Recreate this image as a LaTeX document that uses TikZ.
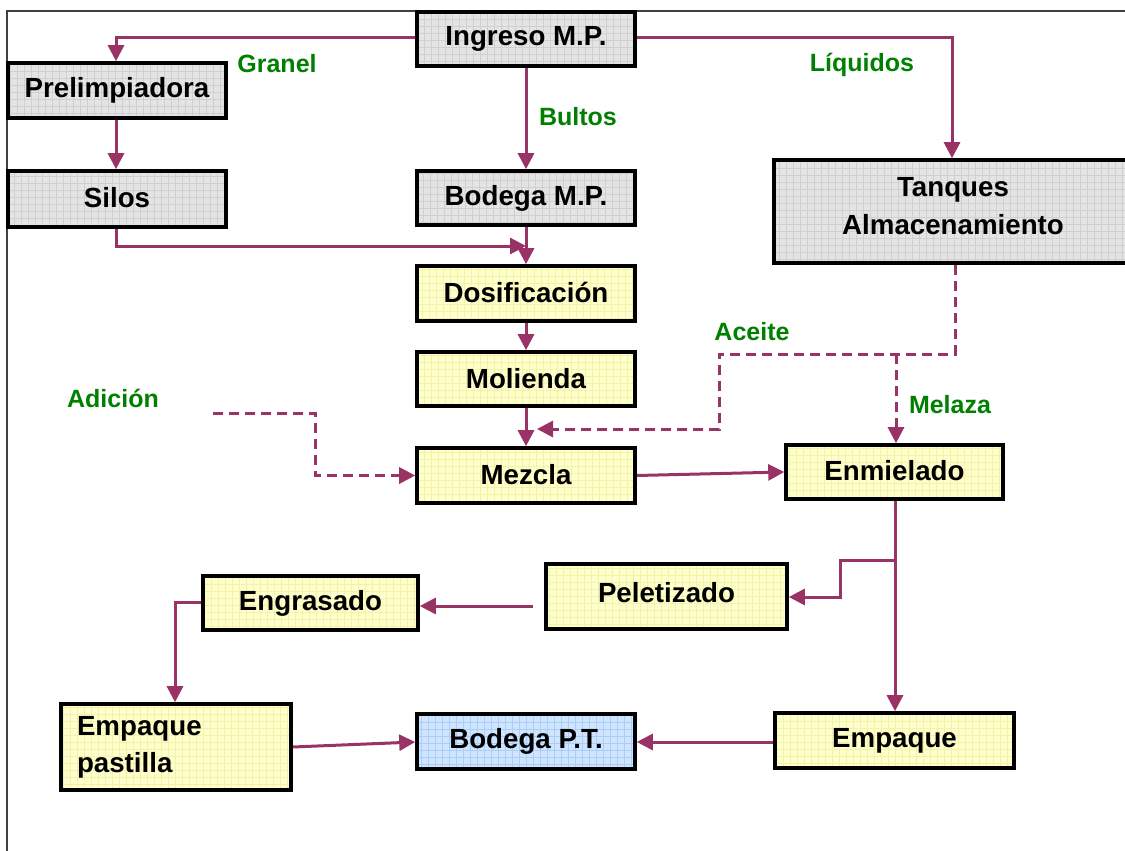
\documentclass[tikz,border=0pt]{standalone}
\usepackage{fontspec}
\setmainfont{Liberation Sans}
\usetikzlibrary{arrows.meta}
\definecolor{arr}{RGB}{153,51,102}
\definecolor{lbl}{RGB}{0,128,0}
\definecolor{gfill}{RGB}{228,228,228}
\definecolor{ggrid}{RGB}{208,208,208}
\definecolor{yfill}{RGB}{255,255,204}
\definecolor{ygrid}{RGB}{242,242,170}
\definecolor{bfill}{RGB}{206,228,255}
\definecolor{bgrid}{RGB}{170,206,245}
\begin{document}
\begin{tikzpicture}[x=1pt,y=-1pt,
  box/.style={draw=black, line width=3.6pt, inner sep=0pt, font=\fontsize{27.7}{37}\selectfont\bfseries, align=center},
  gridded/.style 2 args={fill=#1, path picture={\draw[#2, line width=0.7pt, step=7pt] (path picture bounding box.south west) grid (path picture bounding box.north east);}},
  graybox/.style={box, gridded={gfill}{ggrid}},
  yelbox/.style={box, gridded={yfill}{ygrid}},
  bluebox/.style={box, gridded={bfill}{bgrid}},
  conn/.style={draw=arr, line width=3pt, -{Triangle[length=16pt,width=16pt]}},
  dconn/.style={conn, dash pattern=on 10pt off 6pt},
  lab/.style={text=lbl, font=\fontsize{25}{30}\selectfont\bfseries, inner sep=0pt}
]
\useasboundingbox (0,0) rectangle (1125,851);
\fill[white] (0,0) rectangle (1125,851);
\draw[line width=1.8pt, black!75] (1125,11) -- (7,11) -- (7,851);

% nodes
\node[graybox, minimum width=218pt, minimum height=54pt] (ing) at (526,39) {\raisebox{2pt}{Ingreso M.P.}};
\node[graybox, minimum width=218pt, minimum height=55pt] (pre) at (117,90.5) {\raisebox{2pt}{Prelimpiadora}};
\node[graybox, minimum width=218pt, minimum height=56pt] (silos) at (117,199) {\raisebox{4pt}{Silos}};
\node[graybox, minimum width=218pt, minimum height=54pt] (bmp) at (526,198) {\raisebox{3pt}{Bodega M.P.}};
\node[graybox, minimum width=358pt, minimum height=103pt] (tanq) at (953,211.5) {\raisebox{10.5pt}{\shortstack{Tanques\\[9pt]Almacenamiento}}};
\node[yelbox, minimum width=218pt, minimum height=55pt] (dos) at (526,293.5) {\raisebox{2pt}{Dosificación}};
\node[yelbox, minimum width=218pt, minimum height=54pt] (mol) at (526,379) {\raisebox{2pt}{Molienda}};
\node[yelbox, minimum width=218pt, minimum height=55pt] (mez) at (526,475.5) {\raisebox{3pt}{Mezcla}};
\node[yelbox, minimum width=217pt, minimum height=54pt] (enm) at (894.5,472) {\raisebox{3pt}{Enmielado}};
\node[yelbox, minimum width=241pt, minimum height=65pt] (pel) at (666.5,596.5) {\raisebox{8pt}{Peletizado}};
\node[yelbox, minimum width=215pt, minimum height=54pt] (eng) at (310.5,603) {\raisebox{2pt}{Engrasado}};
\node[yelbox, minimum width=230pt, minimum height=86pt, text width=198pt, align=left] (emp) at (176,747) {Empaque\\pastilla};
\node[bluebox, minimum width=218pt, minimum height=55pt] (bpt) at (526,741.5) {\raisebox{2pt}{Bodega P.T.}};
\node[yelbox, minimum width=239pt, minimum height=55pt] (empq) at (894.5,740.5) {\raisebox{2pt}{Empaque}};

% labels
\node[lab] (lgranel) at (277,64) {Granel};
\node[lab] (lbultos) at (578,117) {Bultos};
\node[lab] (lliq) at (862,65) {Líquidos};
\node[lab] (lace) at (752,332) {Aceite};
\node[lab] (lmel) at (950,405) {Melaza};
\node[lab] (ladi) at (113,398) {Adición};

% helper coordinates
\coordinate (silj) at (526,246);
\coordinate (acetip) at (537,429);
\coordinate (adistart) at (213,413);
\coordinate (pelstart) at (533,606);

% connectors
\draw[conn] (ing.west |- 0,38) -- (116,38) -- (pre.north -| 116,0);
\draw[conn] (ing.south) -- (bmp.north);
\draw[conn] (ing.east |- 0,38) -- (952,38) -- (tanq.north -| 952,0);
\draw[conn] (pre.south -| 116,0) -- (silos.north -| 116,0);
\draw[conn] (silos.south -| 116,0) -- (116,246) -- (silj);
\draw[conn] (bmp.south) -- (dos.north);
\draw[conn] (dos.south) -- (mol.north);
\draw[conn] (mol.south) -- (mez.north);
\draw[dconn] (tanq.south -| 955,0) -- (955,354) -- (719,354) -- (719,429) -- (acetip);
\draw[dconn] (896,354) -- (enm.north -| 896,0);
\draw[dconn] (adistart) -- (315,413) -- (315,475.5) -- (mez.west);
\draw[conn] (mez.east) -- (enm.west);
\draw[conn] (enm.south -| 895,0) -- (empq.north -| 895,0);
\draw[conn] (895,560) -- (840,560) -- (840,597) -- (pel.east |- 0,597);
\draw[conn] (pelstart) -- (eng.east |- 0,606);
\draw[conn] (eng.west |- 0,602) -- (175,602) -- (emp.north -| 175,0);
\draw[conn] (empq.west |- 0,742) -- (bpt.east |- 0,742);
\draw[conn] (emp.east) -- (bpt.west |- 0,742);
\end{tikzpicture}
\end{document}
